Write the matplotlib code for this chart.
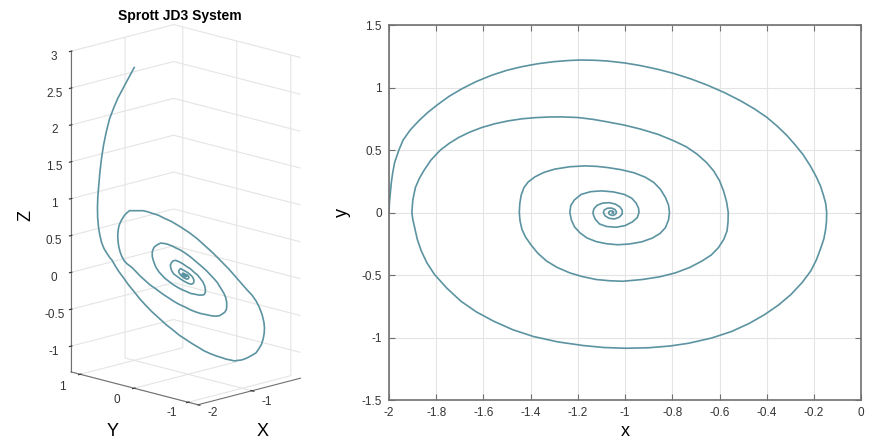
import numpy as np
import matplotlib
matplotlib.use("Agg")
import matplotlib.pyplot as plt

plt.rcParams['font.family'] = ['Liberation Sans', 'DejaVu Sans']
plt.rcParams['grid.color'] = '#e4e4e4'
plt.rcParams['grid.linewidth'] = 0.8

# Sprott JD3 trajectory, sampled along the spiral (one row per half turn)
traj_x = [
    -2.000, -1.998, -1.994, -1.990, -1.984, -1.976, -1.958, -1.940, -1.910, -1.874, -1.836, -1.796,
    -1.745, -1.691, -1.630, -1.565, -1.500, -1.439, -1.370, -1.300, -1.240, -1.190, -1.130, -1.075,
    -1.000, -0.934, -0.860, -0.793, -0.720, -0.653, -0.580, -0.512, -0.453, -0.400, -0.355, -0.314,
    -0.279, -0.247, -0.216, -0.190, -0.172, -0.160, -0.150, -0.146,
    -0.147, -0.151, -0.158, -0.172, -0.190, -0.214, -0.250, -0.298, -0.350, -0.410, -0.475, -0.549,
    -0.635, -0.731, -0.810, -0.900, -0.996, -1.090, -1.178, -1.285, -1.388, -1.475, -1.555, -1.630,
    -1.695, -1.755, -1.807, -1.840, -1.863, -1.880, -1.891, -1.899, -1.903,
    -1.899, -1.888, -1.872, -1.853, -1.822, -1.782, -1.745, -1.705, -1.658, -1.607, -1.552, -1.495,
    -1.435, -1.380, -1.325, -1.270, -1.200, -1.135, -1.075, -1.005, -0.934, -0.860, -0.793, -0.740,
    -0.695, -0.655, -0.625, -0.600, -0.583, -0.570, -0.563,
    -0.564, -0.568, -0.582, -0.605, -0.635, -0.675, -0.727, -0.787, -0.855, -0.927, -1.010, -1.065,
    -1.122, -1.180, -1.234, -1.287, -1.332, -1.370, -1.400, -1.422, -1.437, -1.445, -1.448,
    -1.446, -1.440, -1.428, -1.410, -1.382, -1.345, -1.298, -1.235, -1.170, -1.120, -1.075, -1.018,
    -0.962, -0.915, -0.878, -0.850, -0.829, -0.816, -0.812,
    -0.816, -0.829, -0.852, -0.885, -0.930, -0.982, -1.030, -1.078, -1.122, -1.162, -1.192, -1.214,
    -1.227, -1.234,
    -1.230, -1.215, -1.186, -1.145, -1.100, -1.050, -1.004, -0.972, -0.953, -0.943, -0.941,
    -0.948, -0.969, -1.000, -1.038, -1.078, -1.108, -1.126, -1.134, -1.136,
    -1.132, -1.118, -1.095, -1.068, -1.042, -1.022, -1.012,
    -1.012, -1.025, -1.046, -1.068, -1.085, -1.092,
    -1.088, -1.075, -1.058, -1.043, -1.036, -1.040, -1.052, -1.066, -1.070,
    -1.065, -1.055, -1.048, -1.050, -1.055, -1.053]
traj_y = [
    0.000, 0.080, 0.160, 0.240, 0.320, 0.400, 0.500, 0.580, 0.660, 0.733, 0.800, 0.860,
    0.930, 0.990, 1.048, 1.098, 1.138, 1.166, 1.190, 1.207, 1.216, 1.220, 1.218, 1.212,
    1.196, 1.175, 1.145, 1.112, 1.068, 1.020, 0.960, 0.895, 0.830, 0.762, 0.690, 0.615,
    0.540, 0.465, 0.375, 0.285, 0.210, 0.140, 0.070, 0.000,
    -0.070, -0.140, -0.210, -0.290, -0.380, -0.469, -0.560, -0.657, -0.740, -0.818, -0.888, -0.952,
    -1.005, -1.046, -1.068, -1.082, -1.086, -1.080, -1.064, -1.035, -0.992, -0.938, -0.871, -0.795,
    -0.710, -0.605, -0.496, -0.400, -0.308, -0.215, -0.121, -0.055, 0.000,
    0.100, 0.200, 0.270, 0.333, 0.420, 0.500, 0.553, 0.600, 0.643, 0.680, 0.710, 0.733,
    0.750, 0.759, 0.764, 0.765, 0.760, 0.745, 0.725, 0.700, 0.667, 0.625, 0.573, 0.525,
    0.467, 0.400, 0.333, 0.255, 0.173, 0.085, 0.000,
    -0.075, -0.147, -0.215, -0.282, -0.340, -0.389, -0.440, -0.483, -0.515, -0.536, -0.550, -0.546,
    -0.536, -0.513, -0.483, -0.440, -0.389, -0.325, -0.255, -0.195, -0.134, -0.065, 0.000,
    0.070, 0.140, 0.200, 0.245, 0.285, 0.320, 0.347, 0.366, 0.373, 0.369, 0.360, 0.343,
    0.318, 0.283, 0.240, 0.185, 0.120, 0.060, 0.000,
    -0.060, -0.121, -0.168, -0.205, -0.235, -0.252, -0.258, -0.250, -0.233, -0.203, -0.161, -0.115,
    -0.062, 0.000,
    0.055, 0.100, 0.145, 0.167, 0.173, 0.165, 0.145, 0.115, 0.075, 0.035, 0.000,
    -0.040, -0.075, -0.105, -0.118, -0.112, -0.092, -0.055, -0.020, 0.000,
    0.030, 0.058, 0.075, 0.079, 0.068, 0.045, 0.018,
    -0.012, -0.038, -0.052, -0.046, -0.026, 0.000,
    0.020, 0.034, 0.036, 0.024, 0.005, -0.014, -0.024, -0.016, 0.000,
    0.012, 0.013, 0.004, -0.006, -0.004, 0.000]
traj_z = [
    3.00, 2.88, 2.76, 2.64, 2.52, 2.38, 2.20, 2.00, 1.80, 1.60, 1.40, 1.20,
    1.02, 0.85, 0.70, 0.55, 0.42, 0.30, 0.20, 0.12, 0.05, 0.00, -0.09, -0.17,
    -0.27, -0.37, -0.47, -0.57, -0.67, -0.76, -0.85, -0.94, -1.01, -1.08, -1.13, -1.18,
    -1.22, -1.26, -1.29, -1.31, -1.32, -1.33, -1.33, -1.33,
    -1.31, -1.29, -1.26, -1.22, -1.17, -1.12, -1.04, -0.95, -0.85, -0.75, -0.65, -0.55,
    -0.42, -0.29, -0.19, -0.09, 0.00, 0.10, 0.20, 0.33, 0.45, 0.56, 0.66, 0.76,
    0.84, 0.91, 0.97, 1.00, 1.03, 1.04, 1.05, 1.05, 1.04,
    1.02, 1.00, 0.95, 0.90, 0.81, 0.72, 0.64, 0.55, 0.46, 0.37, 0.28, 0.20,
    0.13, 0.08, 0.04, 0.00, -0.07, -0.14, -0.20, -0.27, -0.33, -0.40, -0.46, -0.51,
    -0.55, -0.58, -0.61, -0.63, -0.64, -0.64, -0.64,
    -0.63, -0.61, -0.57, -0.53, -0.48, -0.42, -0.34, -0.26, -0.18, -0.10, 0.00, 0.06,
    0.12, 0.19, 0.25, 0.31, 0.37, 0.42, 0.46, 0.48, 0.50, 0.51, 0.51,
    0.50, 0.46, 0.42, 0.37, 0.32, 0.25, 0.18, 0.08, 0.00, -0.05, -0.10, -0.15,
    -0.20, -0.24, -0.27, -0.29, -0.31, -0.31, -0.31,
    -0.30, -0.28, -0.24, -0.19, -0.12, -0.05, 0.00, 0.06, 0.10, 0.15, 0.18, 0.21,
    0.23, 0.24,
    0.22, 0.18, 0.13, 0.06, 0.00, -0.04, -0.08, -0.11, -0.13, -0.14, -0.14,
    -0.12, -0.09, -0.05, 0.00, 0.04, 0.07, 0.09, 0.10, 0.11,
    0.09, 0.06, 0.03, 0.00, -0.03, -0.05, -0.06,
    -0.05, -0.03, 0.00, 0.02, 0.03, 0.04,
    0.03, 0.01, 0.00, -0.02, -0.02, -0.01, 0.00, 0.01, 0.01,
    0.00, 0.00, 0.00, 0.00, 0.00, 0.00]

xy_xticks = [-2, -1.8, -1.6, -1.4, -1.2, -1, -0.8, -0.6, -0.4, -0.2, 0]
xy_yticks = [-1.5, -1, -0.5, 0, 0.5, 1, 1.5]
x3_ticks = [-2, -1]
y3_ticks = [-1, 0, 1]
z_ticks = [-1, -0.5, 0, 0.5, 1, 1.5, 2, 2.5, 3]

line_color = '#5b93a1'
axis_color = '#707070'

fig = plt.figure(figsize=(8.69, 4.45), dpi=100)

# 3-D view
ax3 = fig.add_axes([-0.053, 0.0143, 0.52, 0.98], projection='3d')
ax3.set_proj_type('ortho')
ax3.plot(traj_x, traj_y, traj_z, color=line_color, lw=1.2)
ax3.set_xlim(-2, -0.1)
ax3.set_ylim(-1.18, 1.17)
ax3.set_zlim(-1.35, 3.0)
ax3.set_box_aspect((1.9, 2.35, 4.35), zoom=0.9)
ax3.view_init(elev=15, azim=-135)
ax3.set_xticks(x3_ticks)
ax3.set_yticks(y3_ticks)
ax3.set_zticks(z_ticks)
ax3.set_xticklabels([])
ax3.set_yticklabels([])
ax3.set_zticklabels(['%g' % t for t in z_ticks])
for axis in (ax3.xaxis, ax3.yaxis, ax3.zaxis):
    axis.set_pane_color((1, 1, 1, 0))
    axis.pane.set_edgecolor('#e4e4e4')
    axis.line.set_color(axis_color)
ax3.tick_params(labelsize=8.5, colors='#333333')
ax3.zaxis.set_tick_params(pad=4)

# floor tick labels set beside the floor edges
for t, (fx, fy) in zip(y3_ticks, [(0.1979, 0.0719), (0.1346, 0.1011), (0.0713, 0.1303)]):
    fig.text(fx, fy, '%g' % t, ha='center', va='center', fontsize=8.5, color='#333333')
for t, (fx, fy) in zip(x3_ticks, [(0.2451, 0.0719), (0.3072, 0.0966)]):
    fig.text(fx, fy, '%g' % t, ha='center', va='center', fontsize=8.5, color='#333333')

fig.text(0.207, 0.965, 'Sprott JD3 System', ha='center', va='center',
         fontsize=10, fontweight='bold')
fig.text(0.030, 0.515, 'Z', ha='center', va='center', fontsize=13, rotation=90)
fig.text(0.130, 0.030, 'Y', ha='center', va='center', fontsize=13)
fig.text(0.302, 0.030, 'X', ha='center', va='center', fontsize=13)

# x-y projection
ax2 = fig.add_axes([0.4476, 0.1011, 0.5434, 0.8427])
ax2.plot(traj_x, traj_y, color=line_color, lw=1.2)
ax2.set_xlim(-2, 0)
ax2.set_ylim(-1.5, 1.5)
ax2.set_xticks(xy_xticks)
ax2.set_yticks(xy_yticks)
ax2.set_xticklabels(['%g' % t for t in xy_xticks])
ax2.set_yticklabels(['%g' % t for t in xy_yticks])
ax2.grid(True, color='#e4e4e4', lw=0.8)
ax2.set_axisbelow(True)
for s in ax2.spines.values():
    s.set_color(axis_color)
    s.set_linewidth(1.2)
ax2.tick_params(direction='in', top=True, right=True, length=4, labelsize=8.5,
                colors='#333333', pad=5)
ax2.tick_params(axis='both', color=axis_color)
ax2.set_xlabel('x', fontsize=13, labelpad=3)
ax2.set_ylabel('y', fontsize=13, labelpad=8)

fig.savefig('out.png', dpi=100)
